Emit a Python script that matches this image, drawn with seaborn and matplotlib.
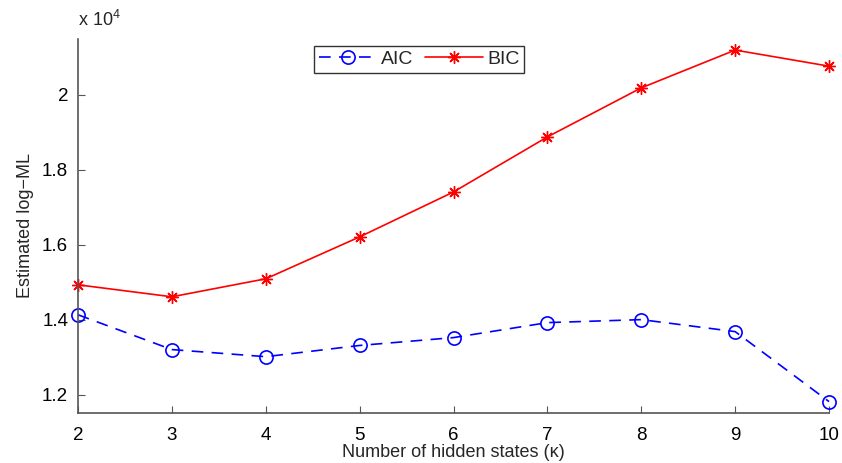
import seaborn as sns
import matplotlib.pyplot as plt
import pandas as pd
from matplotlib.ticker import FuncFormatter

# number of hidden states
states = [2, 3, 4, 5, 6, 7, 8, 9, 10]
aic = [14130, 13200, 13010, 13310, 13520, 13920, 14000, 13680, 11810]
bic = [14930, 14610, 15090, 16210, 17410, 18880, 20190, 21200, 20770]

df = pd.DataFrame({'states': states * 2,
                   'value': aic + bic,
                   'crit': ['AIC'] * len(states) + ['BIC'] * len(states)})

sns.set_style('ticks')
plt.rcParams['font.family'] = ['Liberation Sans', 'DejaVu Sans']
plt.rcParams['mathtext.fontset'] = 'custom'
plt.rcParams['mathtext.rm'] = 'Liberation Sans'

fig = plt.figure(figsize=(8.42, 4.63), dpi=100)
ax = fig.add_axes([0.0926, 0.108, 0.892, 0.8078])

sns.lineplot(data=df[df.crit == 'AIC'], x='states', y='value', ax=ax,
             color='#0000ff', linestyle=(0, (7, 5)), linewidth=1.2,
             marker='o', markersize=9.5, markerfacecolor='none',
             markeredgecolor='#0000ff', markeredgewidth=1.2, label='AIC',
             clip_on=False)
sns.lineplot(data=df[df.crit == 'BIC'], x='states', y='value', ax=ax,
             color='#ff0000', linewidth=1.2,
             marker=(8, 2, 0), markersize=9, markeredgecolor='#ff0000',
             markeredgewidth=1.0, label='BIC', clip_on=False)

ax.set_xlim(2, 10)
ax.set_ylim(11506, 21496)
ax.set_xticks(states)
ax.set_yticks([12000, 14000, 16000, 18000, 20000])
ax.yaxis.set_major_formatter(FuncFormatter(lambda v, p: f'{v / 1e4:g}'))

for s in ['top', 'right']:
    ax.spines[s].set_visible(False)
for s in ['left', 'bottom']:
    ax.spines[s].set_color('#555555')
    ax.spines[s].set_linewidth(1.2)
ax.tick_params(direction='in', length=5, color='#555555', labelsize=13.5,
               labelcolor='black', pad=7)
ax.tick_params(axis='x', pad=10)

ax.set_xlabel('Number of hidden states (\u03ba)', fontsize=13, labelpad=0)
ax.set_ylabel('Estimated log\u2212ML', fontsize=13, labelpad=6)
ax.text(0, 1.025, 'x $10^4$', transform=ax.transAxes, fontsize=13,
        ha='left', va='bottom')

leg = ax.legend(loc='upper center', bbox_to_anchor=(0.454, 1.008), ncol=2,
                fontsize=14, frameon=True, fancybox=False, handlelength=3.0,
                columnspacing=0.6, handletextpad=0.2, borderpad=0.25)
leg.get_frame().set_edgecolor('black')
leg.get_frame().set_linewidth(1.0)

fig.savefig('out.png', dpi=100)
